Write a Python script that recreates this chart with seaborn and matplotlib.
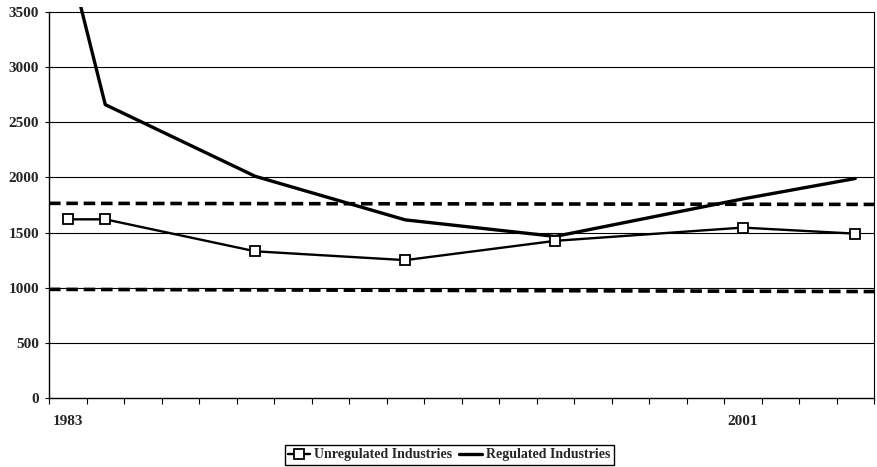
import matplotlib
matplotlib.use('Agg')
import matplotlib.pyplot as plt
import seaborn as sns
import pandas as pd
import numpy as np

# Data
years = [1983, 1984, 1988, 1992, 1996, 2001, 2004]
unregulated = [1620, 1620, 1330, 1250, 1425, 1545, 1490]
regulated = [4020, 2660, 2010, 1615, 1465, 1805, 1990]

# Dashed reference lines (value at left edge, value at right edge)
band_upper = [1765, 1755]
band_lower = [985, 965]

y_ticks = [0, 500, 1000, 1500, 2000, 2500, 3000, 3500]
x_labels = {1983: "1983", 2001: "2001"}

sns.set_style("white")
plt.rcParams['font.family'] = ['Liberation Serif', 'DejaVu Serif']

df = pd.DataFrame({"year": years,
                   "Unregulated Industries": unregulated,
                   "Regulated Industries": regulated})

fig = plt.figure(figsize=(8.78, 4.67), dpi=100)
ax = fig.add_axes([49 / 878, 1 - 398 / 467, (874 - 49) / 878, (398 - 7) / 467])

x_lo, x_hi = 1982.5, 2004.5

# horizontal gridlines
for v in y_ticks[1:]:
    ax.axhline(v, color='black', lw=0.8, zorder=1)

# dashed reference lines
ax.plot([x_lo, x_hi], band_upper, color='black', lw=2.6, dashes=(3.2, 1.6), zorder=2)
ax.plot([x_lo, x_hi], band_lower, color='black', lw=2.6, dashes=(3.2, 1.6), zorder=2)

sns.lineplot(data=df, x="year", y="Unregulated Industries", ax=ax, color='black',
             lw=1.7, marker='s', markersize=6.5, markerfacecolor='white',
             markeredgecolor='black', markeredgewidth=1.3,
             label="Unregulated Industries", zorder=4)
sns.lineplot(data=df, x="year", y="Regulated Industries", ax=ax, color='black',
             lw=2.4, label="Regulated Industries", zorder=3)

ax.set_xlim(x_lo, x_hi)
ax.set_ylim(0, 3545)
ax.set_xlabel("")
ax.set_ylabel("")

# y axis
ax.set_yticks(y_ticks)
ax.set_yticklabels([str(v) for v in y_ticks], fontsize=11, fontweight='bold')
ax.tick_params(axis='y', left=True, direction='out', length=3, width=0.8, pad=4, color='black')

# x axis: ticks between categories, labels at category centres
ax.set_xticks(np.arange(x_lo, x_hi + 0.01, 1.0), minor=True)
ax.tick_params(axis='x', which='minor', bottom=True, direction='out', length=4,
               width=0.8, color='black')
ax.set_xticks(list(x_labels.keys()))
ax.set_xticklabels(list(x_labels.values()), fontsize=11, fontweight='bold')
ax.tick_params(axis='x', which='major', bottom=True, length=0, pad=12)

for s in ['left', 'bottom']:
    ax.spines[s].set_color('black')
    ax.spines[s].set_linewidth(1.0)
ax.spines['top'].set_visible(False)
ax.spines['right'].set_color('black')
ax.spines['right'].set_linewidth(0.8)
ax.spines['right'].set_bounds(0, 3500)
ax.spines['left'].set_bounds(0, 3500)

leg = ax.legend(loc='upper center', bbox_to_anchor=(0.485, -0.12), ncol=2,
                frameon=True, fancybox=False, edgecolor='black', framealpha=1,
                prop={'family': 'Liberation Serif', 'weight': 'bold', 'size': 10},
                handlelength=1.6, handletextpad=0.3, columnspacing=0.5,
                borderpad=0.25, borderaxespad=0)
leg.get_frame().set_linewidth(1.0)

fig.savefig("out.png", dpi=100, facecolor='white')
plt.close(fig)
